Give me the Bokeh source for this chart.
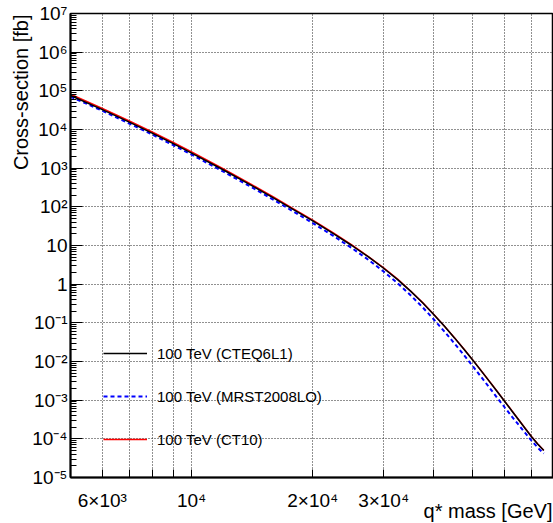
from bokeh.plotting import figure
from bokeh.models import Range1d, FixedTicker, Legend, LegendItem, Title
from bokeh.embed import file_html
from bokeh.resources import INLINE

# q* mass [GeV]
mass = [5000, 6000, 7000, 8000, 9000, 10000, 12000, 14000, 16000, 18000, 20000,
        22500, 25000, 27500, 30000, 32500, 35000, 37500, 40000, 42500, 45000,
        47500, 50000, 52500, 55000, 57500, 60000, 62500, 65000, 67500, 70000,
        72500, 75000]

# Cross-section [fb]
xs_cteq6l1 = [7.59e4, 3.27e4, 1.55e4, 7.93e3, 4.31e3, 2.45e3, 898, 371, 168, 82.2, 43.1,
              20.3, 10.0, 5.06, 2.58, 1.315, 0.661, 0.329, 0.1626, 0.0811, 0.0408,
              0.0208, 0.01074, 0.00564, 0.00302, 0.00165, 9.23e-4, 5.27e-4, 3.08e-4,
              1.83e-4, 1.12e-4, 7.23e-5, 5.01e-5]
xs_mrst2008lo = [7.08e4, 3.05e4, 1.43e4, 7.31e3, 3.93e3, 2.24e3, 809, 334, 150, 73.3, 37.9,
                 17.7, 8.61, 4.26, 2.12, 1.057, 0.519, 0.252, 0.122, 0.0594, 0.0292,
                 0.0147, 0.00752, 0.00390, 0.00209, 0.00114, 6.46e-4, 3.78e-4, 2.28e-4,
                 1.40e-4, 8.89e-5, 5.87e-5, 4.17e-5]
xs_ct10 = [8.13e4, 3.50e4, 1.66e4, 8.49e3, 4.61e3, 2.63e3, 951, 393, 178, 86.1, 45.1,
           21.2, 10.35, 5.18, 2.64, 1.346, 0.668, 0.333, 0.1644, 0.0820, 0.0413,
           0.0210, 0.01086, 0.00570, 0.00305, 0.00167, 9.33e-4, 5.33e-4, 3.11e-4,
           1.85e-4, 1.13e-4, 7.31e-5, 5.07e-5]

series_labels = ["100 TeV (CTEQ6L1)", "100 TeV (MRST2008LO)", "100 TeV (CT10)"]

x_tick_values = [6000, 7000, 8000, 9000, 10000, 20000, 30000, 40000, 50000, 60000, 70000]
x_tick_labels = ["6\u00d710\u00b3", "", "", "", "10\u2074", "2\u00d710\u2074", "3\u00d710\u2074", "", "", "", ""]

y_tick_values = [1e-5, 1e-4, 1e-3, 1e-2, 1e-1, 1.0, 10.0, 1e2, 1e3, 1e4, 1e5, 1e6, 1e7]
y_tick_labels = ["10\u207b\u2075", "10\u207b\u2074", "10\u207b\u00b3", "10\u207b\u00b2", "10\u207b\u00b9",
                 "1", "10", "10\u00b2", "10\u00b3", "10\u2074", "10\u2075", "10\u2076", "10\u2077"]
y_minor = [m * 10.0 ** e for e in range(-5, 7) for m in range(2, 10)]

x_title = "q* mass [GeV]"
y_title = "Cross-section [fb]"

FONT = "Liberation Sans"

p = figure(width=553, height=523, x_axis_type="log", y_axis_type="log",
           x_range=Range1d(5000, 79300), y_range=Range1d(1e-5, 1e7),
           output_backend="svg", toolbar_location=None,
           min_border_left=70, min_border_right=0, min_border_top=13, min_border_bottom=46)
p.background_fill_color = "white"
p.border_fill_color = "white"
p.outline_line_color = "black"
p.outline_line_width = 1.5

p.xaxis.ticker = FixedTicker(ticks=x_tick_values, minor_ticks=[])
p.xaxis.major_label_overrides = {v: s for v, s in zip(x_tick_values, x_tick_labels)}
p.yaxis.ticker = FixedTicker(ticks=y_tick_values, minor_ticks=y_minor)
p.yaxis.major_label_overrides = {v: s for v, s in zip(y_tick_values, y_tick_labels)}

for ax in (p.xaxis, p.yaxis):
    ax.axis_line_color = "black"
    ax.axis_line_width = 2
    ax.major_tick_line_color = "black"
    ax.minor_tick_line_color = "black"
    ax.major_tick_out = 0
    ax.minor_tick_out = 0
    ax.major_label_text_font = FONT
    ax.major_label_text_font_size = "19px"
    ax.major_label_text_color = "black"

p.xaxis.major_tick_in = 8
p.xaxis.major_label_standoff = 12
p.yaxis.major_tick_in = 12
p.yaxis.minor_tick_in = 6
p.yaxis.major_label_standoff = 3

p.add_layout(Title(text=x_title, align="right", vertical_align="top", text_font=FONT,
                   text_font_size="20px", text_font_style="normal", text_color="black",
                   standoff=-28, offset=1),
             "below")
p.add_layout(Title(text=y_title, align="right", text_font=FONT, text_font_size="20px",
                   text_font_style="normal", text_color="black", standoff=-5, offset=1),
             "left")

for g in (p.xgrid, p.ygrid):
    g.grid_line_color = "#222222"
    g.grid_line_dash = "1 2"
    g.grid_line_width = 1

r_ct10 = p.line(mass, xs_ct10, line_color="red", line_width=1.5)
r_mrst = p.line(mass, xs_mrst2008lo, line_color="blue", line_width=2, line_dash="4 3")
r_cteq = p.line(mass, xs_cteq6l1, line_color="black", line_width=1.5)

legend = Legend(items=[LegendItem(label=series_labels[0], renderers=[r_cteq]),
                       LegendItem(label=series_labels[1], renderers=[r_mrst]),
                       LegendItem(label=series_labels[2], renderers=[r_ct10])],
                location=(33, 28), orientation="vertical",
                background_fill_alpha=0, border_line_alpha=0,
                padding=0, margin=0, spacing=23,
                glyph_width=44, glyph_height=20, label_height=20,
                label_standoff=10,
                label_text_font=FONT, label_text_font_size="15px",
                label_text_color="black")
p.add_layout(legend, "center")

open("out.html", "w").write(file_html(p, INLINE))
